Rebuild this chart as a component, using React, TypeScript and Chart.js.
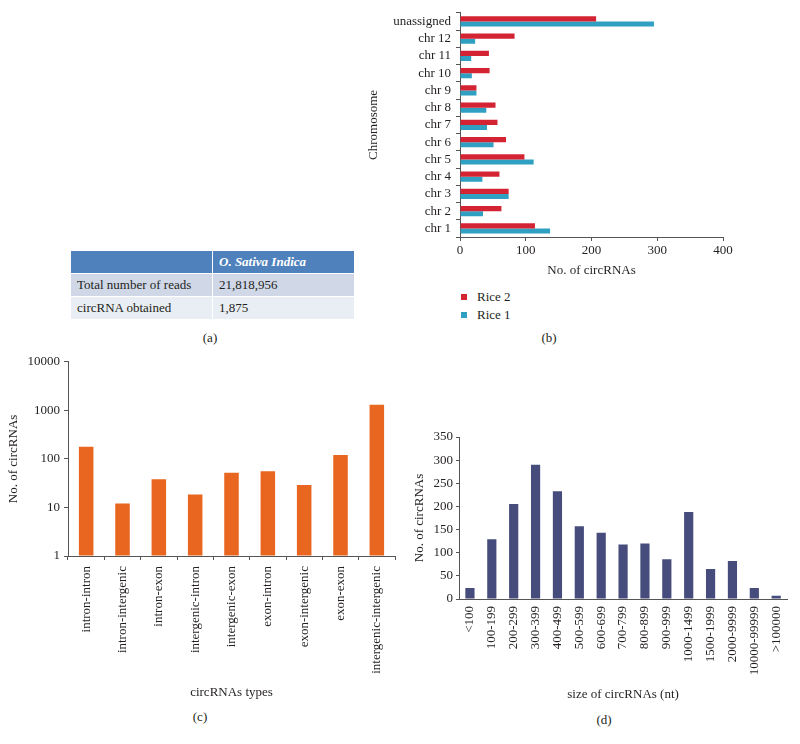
import React, { useEffect, useRef } from "react";
import { Chart, registerables } from "chart.js";

Chart.register(...registerables);

const FONT_FAMILY = "'Liberation Serif', 'Times New Roman', serif";
const TEXT = "#231f20";
const AXIS = "#555555";

// (a) table
const TABLE_HEADER = ["", "O. Sativa Indica"];
const TABLE_ROW_LABELS = ["Total number of reads", "circRNA obtained"];
const TABLE_ROW_VALUES = ["21,818,956", "1,875"];

// (b) chromosome distribution
const CHROMOSOMES = ["unassigned", "chr 12", "chr 11", "chr 10", "chr 9", "chr 8", "chr 7", "chr 6", "chr 5", "chr 4", "chr 3", "chr 2", "chr 1"];
const RICE2 = [207, 83, 44, 45, 25, 54, 57, 70, 98, 60, 74, 63, 114];
const RICE1 = [295, 23, 17, 18, 25, 40, 41, 51, 112, 34, 74, 35, 137];
const SERIES_B = [
  { name: "Rice 2", data: RICE2, color: "#d42434" },
  { name: "Rice 1", data: RICE1, color: "#2f9fc2" },
];
const CHR_TICKS = [0, 100, 200, 300, 400];

// (c) circRNA types (log scale)
const TYPES = ["intron-intron", "intron-intergenic", "intron-exon", "intergenic-intron", "intergenic-exon", "exon-intron", "exon-intergenic", "exon-exon", "intergenic-intergenic"];
const TYPE_COUNTS = [178, 12, 38, 18.5, 52, 56, 29, 120, 1310];
const LOG_TICKS = [1, 10, 100, 1000, 10000];

// (d) size distribution
const SIZE_BINS = ["<100", "100-199", "200-299", "300-399", "400-499", "500-599", "600-699", "700-799", "800-899", "900-999", "1000-1499", "1500-1999", "2000-9999", "10000-99999", ">100000"];
const SIZE_COUNTS = [24, 129, 205, 290, 233, 157, 143, 118, 120, 86, 188, 65, 82, 24, 7];
const SIZE_TICKS = [0, 50, 100, 150, 200, 250, 300, 350];

const font = (size = 13) => ({ family: FONT_FAMILY, size, weight: "normal" as const });

function ChartBox({ left, top, width, height, make }: { left: number; top: number; width: number; height: number; make: () => any }) {
  const ref = useRef<HTMLCanvasElement>(null);
  useEffect(() => {
    const chart = new Chart(ref.current as HTMLCanvasElement, make());
    return () => chart.destroy();
  }, []);
  return (
    <div style={{ position: "absolute", left, top, width, height }}>
      <canvas ref={ref} width={width} height={height} style={{ width, height, display: "block" }} />
    </div>
  );
}

function makeChartB() {
  return {
    type: "bar",
    data: {
      labels: CHROMOSOMES,
      datasets: SERIES_B.map((s) => ({
        label: s.name,
        data: s.data,
        backgroundColor: s.color,
        categoryPercentage: 0.6,
        barPercentage: 1.0,
      })),
    },
    options: {
      indexAxis: "y",
      responsive: false,
      animation: false,
      layout: { padding: { top: 7, right: 17, left: 0, bottom: 0 } },
      plugins: { legend: { display: false }, tooltip: { enabled: false } },
      scales: {
        x: {
          min: 0,
          max: 400,
          afterBuildTicks: (s: any) => { s.ticks = CHR_TICKS.map((v) => ({ value: v })); },
          grid: { drawOnChartArea: false, drawTicks: true, tickLength: 4, color: AXIS },
          border: { display: true, color: AXIS },
          ticks: { font: font(13), color: TEXT, padding: 2 },
          title: { display: true, text: "No. of circRNAs", font: font(13), color: TEXT, padding: { top: 0, bottom: 7 } },
          afterFit: (s: any) => { s.height = 48; },
        },
        y: {
          grid: { drawOnChartArea: false, drawTicks: true, tickLength: 4, color: AXIS, offset: true },
          border: { display: true, color: AXIS },
          ticks: { font: font(13), color: TEXT, padding: 5, autoSkip: false },
          title: { display: true, text: "Chromosome", font: font(13), color: TEXT, padding: { top: 6, bottom: 0 } },
          afterFit: (s: any) => { s.width = 100; },
        },
      },
    },
  };
}

function makeChartC() {
  return {
    type: "bar",
    data: {
      labels: TYPES,
      datasets: [
        {
          label: "circRNAs",
          data: TYPE_COUNTS,
          backgroundColor: "#e8661f",
          base: 1,
          categoryPercentage: 0.4,
          barPercentage: 1.0,
        },
      ],
    },
    options: {
      responsive: false,
      animation: false,
      layout: { padding: { top: 10, right: 5, left: 0, bottom: 0 } },
      plugins: { legend: { display: false }, tooltip: { enabled: false } },
      scales: {
        x: {
          grid: { drawOnChartArea: false, drawTicks: true, tickLength: 4, color: AXIS, offset: true },
          border: { display: true, color: AXIS },
          ticks: { font: font(13), color: TEXT, padding: 6, autoSkip: false, minRotation: 90, maxRotation: 90 },
          title: { display: true, text: "circRNAs types", font: font(13), color: TEXT, padding: { top: 0, bottom: 5 } },
          afterFit: (s: any) => { s.height = 149; },
        },
        y: {
          type: "logarithmic",
          min: 1,
          max: 10000,
          afterBuildTicks: (s: any) => { s.ticks = LOG_TICKS.map((v) => ({ value: v, major: true })); },
          grid: { drawOnChartArea: false, drawTicks: true, tickLength: 4, color: AXIS },
          border: { display: true, color: AXIS },
          ticks: { font: font(13), color: TEXT, padding: 4, callback: (v: any) => String(v) },
          title: { display: true, text: "No. of circRNAs", font: font(13), color: TEXT, padding: { top: 6, bottom: 0 } },
          afterFit: (s: any) => { s.width = 68; },
        },
      },
    },
  };
}

function makeChartD() {
  return {
    type: "bar",
    data: {
      labels: SIZE_BINS,
      datasets: [
        {
          label: "circRNAs",
          data: SIZE_COUNTS,
          backgroundColor: "#464c7c",
          categoryPercentage: 0.42,
          barPercentage: 1.0,
        },
      ],
    },
    options: {
      responsive: false,
      animation: false,
      layout: { padding: { top: 22, right: 6, left: 0, bottom: 0 } },
      plugins: { legend: { display: false }, tooltip: { enabled: false } },
      scales: {
        x: {
          grid: { drawOnChartArea: false, drawTicks: true, tickLength: 4, color: "rgba(0,0,0,0)", offset: true },
          border: { display: true, color: AXIS },
          ticks: { font: font(13), color: TEXT, padding: 3, autoSkip: false, minRotation: 90, maxRotation: 90 },
          title: { display: true, text: "size of circRNAs (nt)", font: font(13), color: TEXT, padding: { top: 0, bottom: 3 } },
          afterFit: (s: any) => { s.height = 106; },
        },
        y: {
          min: 0,
          max: 350,
          afterBuildTicks: (s: any) => { s.ticks = SIZE_TICKS.map((v) => ({ value: v })); },
          grid: { drawOnChartArea: false, drawTicks: true, tickLength: 3, color: AXIS },
          border: { display: true, color: AXIS },
          ticks: { font: font(13), color: TEXT, padding: 3 },
          title: { display: true, text: "No. of circRNAs", font: font(13), color: TEXT, padding: { top: 12, bottom: 0 } },
          afterFit: (s: any) => { s.width = 59; },
        },
      },
    },
  };
}

function Label({ x, y, text }: { x: number; y: number; text: string }) {
  return (
    <div
      style={{
        position: "absolute",
        left: x,
        top: y,
        transform: "translate(-50%, -50%)",
        fontFamily: FONT_FAMILY,
        fontSize: 13,
        color: TEXT,
        whiteSpace: "nowrap",
        lineHeight: "16px",
      }}
    >
      {text}
    </div>
  );
}

function TableA() {
  const cell: React.CSSProperties = {
    fontFamily: FONT_FAMILY,
    fontSize: 13,
    color: TEXT,
    padding: "0 0 0 6px",
    textAlign: "left",
    width: 141,
    boxSizing: "border-box",
  };
  const rowBg = ["#d0d8e8", "#e9edf4"];
  return (
    <table
      style={{
        position: "absolute",
        left: 70,
        top: 250,
        width: 283,
        borderCollapse: "separate",
        borderSpacing: 1,
        background: "#ffffff",
        tableLayout: "fixed",
      }}
    >
      <tbody>
        <tr style={{ height: 22 }}>
          {TABLE_HEADER.map((h, i) => (
            <th
              key={i}
              style={{ ...cell, background: "#4f81bd", color: "#ffffff", fontWeight: "bold", fontStyle: "italic" }}
            >
              {h}
            </th>
          ))}
        </tr>
        {TABLE_ROW_LABELS.map((label, r) => (
          <tr key={r} style={{ height: 22 }}>
            <td style={{ ...cell, background: rowBg[r] }}>{label}</td>
            <td style={{ ...cell, background: rowBg[r] }}>{TABLE_ROW_VALUES[r]}</td>
          </tr>
        ))}
      </tbody>
    </table>
  );
}

function LegendB() {
  return (
    <div style={{ position: "absolute", left: 458, top: 288 }}>
      {SERIES_B.map((s) => (
        <div key={s.name} style={{ display: "flex", alignItems: "center", height: 18 }}>
          <span style={{ display: "inline-block", width: 6, height: 6, background: s.color, marginRight: 10, marginLeft: 3 }} />
          <span style={{ fontFamily: FONT_FAMILY, fontSize: 13, color: TEXT }}>{s.name}</span>
        </div>
      ))}
    </div>
  );
}

export default function App() {
  return (
    <div style={{ position: "absolute", left: 0, top: 0, width: 800, height: 744, background: "#ffffff", overflow: "hidden" }}>
      <TableA />
      <Label x={210} y={338} text="(a)" />
      <ChartBox left={360} top={0} width={380} height={285} make={makeChartB} />
      <LegendB />
      <Label x={549} y={338} text="(b)" />
      <ChartBox left={0} top={350} width={400} height={355} make={makeChartC} />
      <Label x={200} y={717} text="(c)" />
      <ChartBox left={400} top={415} width={395} height={290} make={makeChartD} />
      <Label x={604} y={720} text="(d)" />
    </div>
  );
}
